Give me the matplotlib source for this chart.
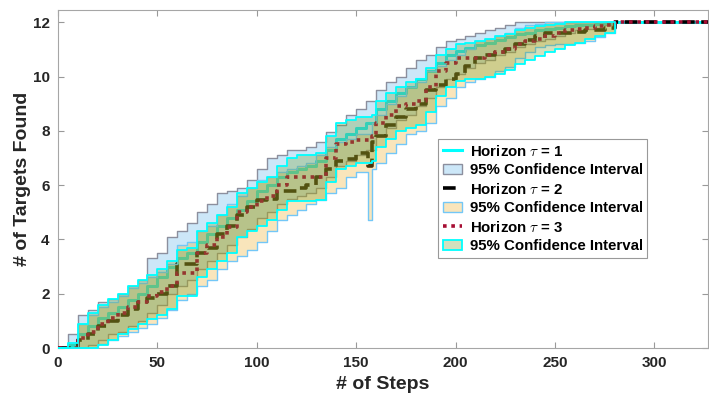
import matplotlib
matplotlib.use("Agg")
import matplotlib.pyplot as plt

plt.rcParams['font.family'] = ['Liberation Sans', 'DejaVu Sans']
plt.rcParams['font.weight'] = 'bold'
plt.rcParams['mathtext.fontset'] = 'cm'

# Step index at which each value below is recorded
steps = [0, 5, 10, 15, 20, 25, 30, 35, 40, 45,
         50, 55, 60, 65, 70, 75, 80, 85, 90, 95,
         100, 105, 110, 115, 120, 125, 130, 135, 140, 145,
         150, 155, 156, 158, 160, 165, 170, 175, 180, 185,
         190, 195, 200, 205, 210, 215, 220, 225, 230, 235,
         240, 245, 250, 255, 260, 265, 270, 275, 280, 327]

# Horizon tau = 1
mean_h1 = [0, 0.1, 0.5, 0.8, 1.1, 1.3, 1.5, 1.75, 2.0, 2.3,
           2.6, 3.0, 3.3, 3.5, 3.9, 4.2, 4.5, 4.8, 5.1, 5.4,
           5.8, 6.0, 6.3, 6.5, 6.6, 6.7, 6.9, 7.3, 7.7, 7.9,
           8.1, 8.3, 8.3, 8.3, 8.8, 9.1, 9.4, 9.6, 9.9, 10.2,
           10.5, 10.8, 10.95, 11.05, 11.15, 11.25, 11.35, 11.45, 11.55, 11.6,
           11.7, 11.75, 11.8, 11.85, 11.9, 11.9, 11.95, 11.95, 12, 12]
upper_h1 = [0, 0.5, 1.2, 1.4, 1.7, 1.8, 2.0, 2.3, 2.5, 3.3,
            3.5, 4.1, 4.3, 4.6, 5.0, 5.3, 5.7, 5.8, 5.9, 6.2,
            6.6, 7.0, 7.1, 7.3, 7.3, 7.4, 7.6, 7.95, 8.2, 8.6,
            8.8, 9.1, 9.1, 9.1, 9.5, 9.8, 10.0, 10.3, 10.6, 10.8,
            11.1, 11.3, 11.4, 11.5, 11.6, 11.7, 11.8, 11.9, 12, 12,
            12, 12, 12, 12, 12, 12, 12, 12, 12, 12]
lower_h1 = [0, 0, 0, 0.1, 0.3, 0.5, 0.6, 0.8, 1.0, 1.3,
            1.6, 2.0, 2.3, 2.5, 2.9, 3.2, 3.5, 3.8, 4.1, 4.4,
            4.8, 5.0, 5.3, 5.5, 5.6, 5.7, 5.9, 6.3, 6.7, 6.9,
            7.1, 7.3, 7.3, 7.3, 7.8, 8.1, 8.4, 8.6, 8.9, 9.2,
            9.6, 9.9, 10.1, 10.3, 10.5, 10.6, 10.8, 10.9, 11.1, 11.2,
            11.3, 11.4, 11.5, 11.6, 11.7, 11.75, 11.8, 11.9, 12, 12]

# Horizon tau = 2
mean_h2 = [0, 0, 0.3, 0.5, 0.8, 1.0, 1.2, 1.45, 1.7, 1.85,
           2.0, 2.3, 3.1, 3.1, 3.5, 3.7, 4.2, 4.5, 4.9, 5.2,
           5.45, 5.5, 5.8, 5.8, 5.9, 6.0, 6.3, 6.6, 6.9, 6.95,
           7.2, 7.2, 6.7, 7.6, 7.8, 8.2, 8.5, 8.8, 9.0, 9.5,
           9.7, 9.9, 10.1, 10.4, 10.7, 10.8, 10.9, 11.0, 11.2, 11.35,
           11.5, 11.6, 11.6, 11.6, 11.65, 11.7, 11.7, 11.8, 12, 12]
upper_h2 = [0, 0, 0.9, 1.2, 1.5, 1.7, 1.9, 2.2, 2.4, 2.6,
            2.8, 3.1, 3.8, 3.9, 4.3, 4.5, 4.9, 5.3, 5.6, 5.9,
            6.2, 6.3, 6.5, 6.6, 6.7, 6.8, 7.1, 7.4, 7.6, 7.7,
            7.9, 7.9, 7.9, 8.3, 8.6, 9.0, 9.3, 9.6, 9.8, 10.2,
            10.4, 10.6, 10.8, 11.0, 11.3, 11.4, 11.5, 11.6, 11.8, 11.9,
            11.95, 12, 12, 12, 12, 12, 12, 12, 12, 12]
lower_h2 = [0, 0, 0, 0, 0.15, 0.3, 0.45, 0.6, 0.75, 0.9,
            1.1, 1.4, 1.75, 2.0, 2.3, 2.5, 2.9, 3.2, 3.4, 3.6,
            3.9, 4.3, 4.7, 4.9, 5.1, 5.3, 5.45, 5.7, 5.9, 6.3,
            6.5, 6.5, 4.7, 6.6, 6.8, 7.2, 7.5, 7.9, 8.0, 8.3,
            8.9, 9.2, 9.6, 9.8, 9.9, 10.0, 10.2, 10.35, 10.7, 10.9,
            11.1, 11.15, 11.2, 11.2, 11.25, 11.3, 11.45, 11.6, 12, 12]

# Horizon tau = 3
mean_h3 = [0, 0, 0.35, 0.6, 0.9, 1.1, 1.3, 1.5, 1.7, 1.9,
           2.05, 2.3, 2.75, 2.75, 3.5, 3.8, 4.1, 4.45, 5.0, 5.2,
           5.4, 5.6, 6.0, 6.3, 6.3, 6.3, 6.3, 7.0, 7.5, 7.6,
           7.65, 7.65, 7.65, 7.8, 8.3, 8.6, 8.9, 9.0, 9.1, 9.6,
           10.2, 10.5, 10.7, 10.7, 10.7, 10.8, 10.9, 11.0, 11.2, 11.3,
           11.4, 11.5, 11.6, 11.7, 11.75, 11.8, 11.85, 11.9, 12, 12]
upper_h3 = [0, 0.2, 0.9, 1.3, 1.6, 1.8, 2.0, 2.3, 2.5, 2.7,
            2.9, 3.2, 3.6, 3.7, 4.3, 4.6, 4.9, 5.2, 5.7, 5.9,
            6.1, 6.3, 6.7, 7.0, 7.1, 7.1, 7.2, 7.8, 8.3, 8.4,
            8.5, 8.5, 8.5, 8.6, 9.1, 9.4, 9.6, 9.8, 9.9, 10.3,
            10.8, 11.0, 11.2, 11.25, 11.3, 11.4, 11.5, 11.55, 11.7, 11.8,
            11.85, 11.9, 11.95, 12, 12, 12, 12, 12, 12, 12]
lower_h3 = [0, 0, 0, 0, 0.1, 0.3, 0.5, 0.7, 0.9, 1.05,
            1.2, 1.45, 1.9, 1.9, 2.6, 2.9, 3.2, 3.5, 4.1, 4.3,
            4.5, 4.7, 5.1, 5.4, 5.4, 5.4, 5.45, 6.1, 6.6, 6.7,
            6.8, 6.8, 6.8, 6.9, 7.4, 7.7, 8.0, 8.1, 8.2, 8.7,
            9.3, 9.6, 9.85, 9.9, 9.9, 10.0, 10.1, 10.25, 10.45, 10.6,
            10.75, 10.9, 11.0, 11.15, 11.25, 11.4, 11.5, 11.6, 12, 12]

x_ticks = [0, 50, 100, 150, 200, 250, 300]
y_ticks = [0, 2, 4, 6, 8, 10, 12]

fig = plt.figure(figsize=(7.09, 4.0), dpi=100)
ax = fig.add_axes([58 / 709, 52 / 400, 650 / 709, 338 / 400])

ci_label = '95% Confidence Interval'
alpha = 0.3
dark = (0.15, 0.15, 0.15)
# the bands stop where every run has found all targets
n_band = len(steps) - 1


def band(lower, upper, **kw):
    ax.fill_between(steps[:n_band], lower[:n_band], upper[:n_band], step='post', **kw)


ax.step(steps, mean_h1, where='post', color='#00FFFF', lw=2.2,
        label=r'Horizon $\tau$ = 1', zorder=1)
band(lower_h1, upper_h1, facecolor=(88/255, 178/255, 232/255, alpha),
     edgecolor=(0.55, 0.56, 0.62), lw=1.0, label=ci_label, zorder=2)

ax.step(steps, mean_h2, where='post', color='black', lw=2.6, linestyle=(0, (3.5, 1.8)),
        label=r'Horizon $\tau$ = 2', zorder=3)
band(lower_h2, upper_h2, facecolor=(238/255, 172/255, 32/255, alpha),
     edgecolor=(0.45, 0.78, 0.97), lw=1.0, label=ci_label, zorder=4)

ax.step(steps, mean_h3, where='post', color=(0.65, 0.05, 0.2), lw=2.6, linestyle=(0, (1, 1.3)),
        label=r'Horizon $\tau$ = 3', zorder=5)
band(lower_h3, upper_h3, facecolor=(112/255, 155/255, 38/255, alpha),
     edgecolor='#00FFFF', lw=1.3, label=ci_label, zorder=6)

ax.set_xlim(0, 327)
ax.set_ylim(0, 12.45)
ax.set_xticks(x_ticks)
ax.set_yticks(y_ticks)
ax.tick_params(direction='in', length=4, width=0.8, color=(0.6, 0.6, 0.6),
               top=True, right=True, labelsize=11, labelcolor=dark, pad=6)
for lab in ax.get_xticklabels() + ax.get_yticklabels():
    lab.set_fontweight('bold')
for sp in ax.spines.values():
    sp.set_color((0.65, 0.65, 0.65))
    sp.set_linewidth(0.8)

ax.set_xlabel('# of Steps', fontsize=14, fontweight='bold', color=dark, labelpad=4)
ax.set_ylabel('# of Targets Found', fontsize=14, fontweight='bold', color=dark, labelpad=1)

leg = ax.legend(loc='upper left', bbox_to_anchor=(0.585, 0.618),
                prop={'weight': 'bold', 'size': 10.8}, frameon=True, fancybox=False,
                edgecolor=(0.6, 0.6, 0.6), framealpha=1, handlelength=1.3,
                handletextpad=0.5, labelspacing=0.3, borderpad=0.3, borderaxespad=0)
leg.get_frame().set_linewidth(0.8)

fig.savefig('out.png', dpi=100)
